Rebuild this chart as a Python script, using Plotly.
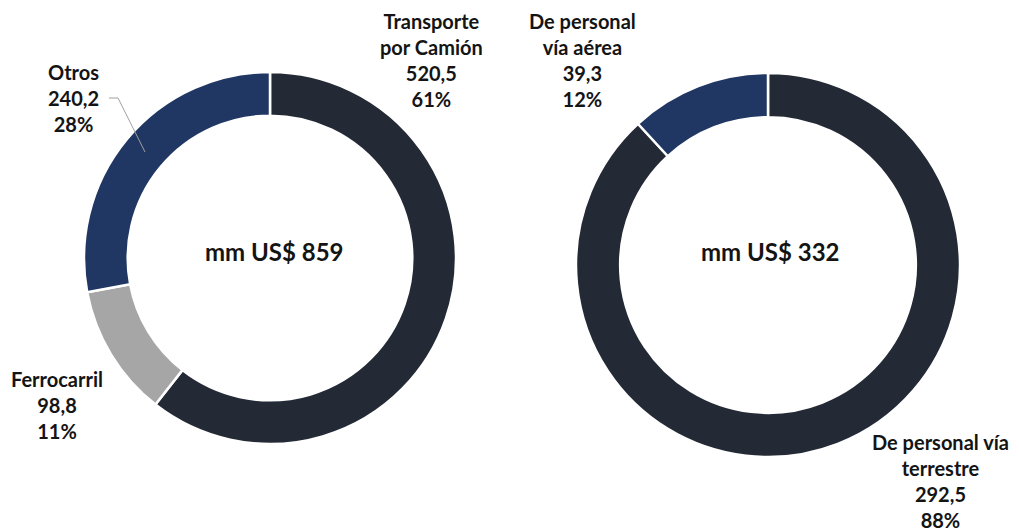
import plotly.graph_objects as go

# Data
left_labels = ["Transporte por Camión", "Ferrocarril", "Otros"]
left_values = [520.5, 98.8, 240.2]
left_pct = ["61%", "11%", "28%"]
left_total = "mm US$ 859"

right_labels = ["De personal vía terrestre", "De personal vía aérea"]
right_values = [292.5, 39.3]
right_pct = ["88%", "12%"]
right_total = "mm US$ 332"

DARK = "#242a35"
NAVY = "#213763"
GRAY = "#a6a6a6"
TXT = "#141414"
FONT = "Lato"

W, H = 1019, 532
OX, OY = 8, 8  # page body margin offset


def px(x):
    return (x - OX) / W


def py(y):
    return 1 - (y - OY) / H


def dom(cx, cy, r):
    return dict(x=[px(cx - r), px(cx + r)], y=[py(cy + r), py(cy - r)])


fig = go.Figure()
fig.add_trace(go.Pie(
    labels=left_labels, values=left_values, hole=0.765, sort=False,
    direction="clockwise", rotation=0,
    marker=dict(colors=[DARK, GRAY, NAVY], line=dict(color="white", width=2.5)),
    textinfo="none", hoverinfo="label+value", showlegend=False,
    domain=dom(270, 258, 186),
))
fig.add_trace(go.Pie(
    labels=right_labels, values=right_values, hole=0.77, sort=False,
    direction="clockwise", rotation=0,
    marker=dict(colors=[DARK, NAVY], line=dict(color="white", width=2.5)),
    textinfo="none", hoverinfo="label+value", showlegend=False,
    domain=dom(768, 265, 192),
))


def fmt(v):
    return f"{v:.1f}".replace(".", ",")


def ann(text, x, y_top, size=20):
    fig.add_annotation(
        text=text, x=px(x), y=py(y_top), xref="paper", yref="paper",
        xanchor="center", yanchor="top", showarrow=False, align="center",
        borderpad=0, font=dict(family=FONT, size=size, color=TXT),
    )


ann(f"<b>Transporte<br>por Camión<br>{fmt(left_values[0])}<br>{left_pct[0]}</b>", 431, 8)
ann(f"<b>Ferrocarril<br>{fmt(left_values[1])}<br>{left_pct[1]}</b>", 57, 366)
ann(f"<b>Otros<br>{fmt(left_values[2])}<br>{left_pct[2]}</b>", 73, 59)
ann(f"<b>De personal<br>vía aérea<br>{fmt(right_values[1])}<br>{right_pct[1]}</b>", 582, 8)
ann(f"<b>De personal vía<br>terrestre<br>{fmt(right_values[0])}<br>{right_pct[0]}</b>", 940, 429)

# center labels
for txt, cx in [(left_total, 274), (right_total, 770)]:
    fig.add_annotation(
        text=f"<b>{txt}</b>", x=px(cx), y=py(251), xref="paper", yref="paper",
        xanchor="center", yanchor="middle", showarrow=False,
        font=dict(family=FONT, size=24, color=TXT),
    )

# leader line for Otros
fig.add_shape(type="path", xref="paper", yref="paper",
              path=f"M {px(109)},{py(98)} L {px(118)},{py(98)} L {px(145)},{py(152)}",
              line=dict(color="#a0a0a0", width=1))

fig.update_layout(
    width=W, height=H, margin=dict(l=0, r=0, t=0, b=0),
    paper_bgcolor="white", plot_bgcolor="white",
)
fig.write_html("out.html")
